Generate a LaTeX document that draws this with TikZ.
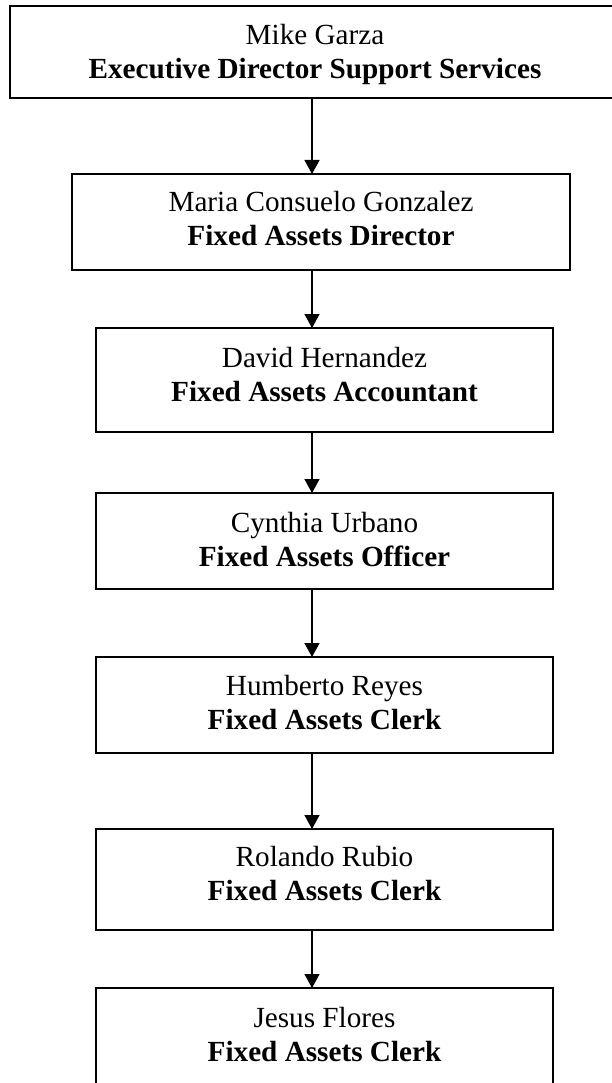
\documentclass[tikz,border=0pt]{standalone}
\usepackage{fontspec}
\setmainfont{Liberation Serif}
\usetikzlibrary{arrows.meta}
\begin{document}
\begin{tikzpicture}[x=1pt,y=-1pt,
  box/.style={draw=black,line width=2pt,inner sep=0pt,outer sep=0pt,anchor=north west},
  nm/.style={font=\fontsize{29.2}{34}\selectfont,anchor=base,inner sep=0pt},
  rl/.style={font=\fontsize{29.2}{34}\selectfont\bfseries,anchor=base,inner sep=0pt},
  link/.style={-{Triangle[width=15pt,length=14pt]},line width=1.3pt}]
\useasboundingbox (0,0) rectangle (612,1083);
\clip (0,0) rectangle (612,1083);
\fill[white] (0,0) rectangle (612,1083);
% boxes
\node[box,minimum width=610pt,minimum height=92pt] (b1) at (10,6) {};
\node[box,minimum width=498pt,minimum height=96pt] (b2) at (72,174) {};
\node[box,minimum width=457pt,minimum height=104pt] (b3) at (96,328) {};
\node[box,minimum width=457pt,minimum height=96pt] (b4) at (96,493) {};
\node[box,minimum width=457pt,minimum height=96pt] (b5) at (96,657) {};
\node[box,minimum width=457pt,minimum height=101pt] (b6) at (96,829) {};
\node[box,minimum width=457pt,minimum height=100pt] (b7) at (96,988) {};
% texts
\node[nm] (n1) at (315,45) {Mike Garza};
\node[rl] (r1) at (315,79) {Executive Director Support Services};
\node[nm] (n2) at (321,212) {Maria Consuelo Gonzalez};
\node[rl] (r2) at (321,246) {Fixed Assets Director};
\node[nm] (n3) at (324.5,367) {David Hernandez};
\node[rl] (r3) at (324.5,401) {Fixed Assets Accountant};
\node[nm] (n4) at (324.5,532) {Cynthia Urbano};
\node[rl] (r4) at (324.5,566) {Fixed Assets Officer};
\node[nm] (n5) at (324.5,695) {Humberto Reyes};
\node[rl] (r5) at (324.5,729) {Fixed Assets Clerk};
\node[nm] (n6) at (324.5,866) {Rolando Rubio};
\node[rl] (r6) at (324.5,900) {Fixed Assets Clerk};
\node[nm] (n7) at (324.5,1027) {Jesus Flores};
\node[rl] (r7) at (324.5,1061) {Fixed Assets Clerk};
% connectors
\coordinate (ax) at (312,0);
\draw[link] (b1.south -| ax) -- (b2.north -| ax);
\draw[link] (b2.south -| ax) -- (b3.north -| ax);
\draw[link] (b3.south -| ax) -- (b4.north -| ax);
\draw[link] (b4.south -| ax) -- (b5.north -| ax);
\draw[link] (b5.south -| ax) -- (b6.north -| ax);
\draw[link] (b6.south -| ax) -- (b7.north -| ax);
\end{tikzpicture}
\end{document}
